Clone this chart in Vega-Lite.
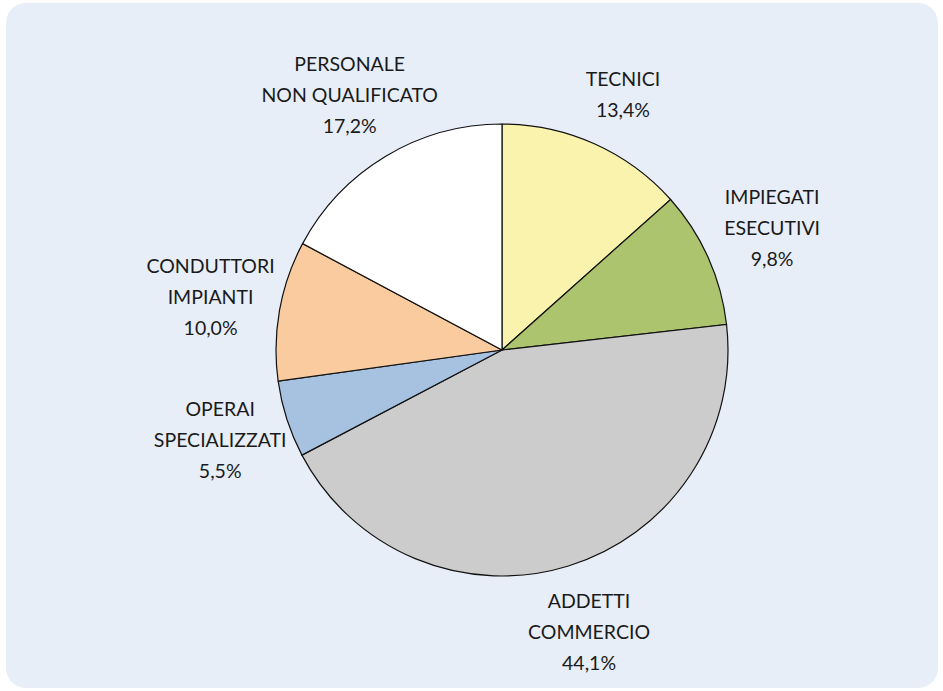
{
  "$schema": "https://vega.github.io/schema/vega-lite/v6.json",
  "width": 943,
  "height": 691,
  "autosize": {"type": "fit", "contains": "padding"},
  "padding": {"left": 6, "top": 3, "right": 5, "bottom": 3},
  "background": "#ffffff",
  "view": {"fill": "#e8eef8", "stroke": null, "cornerRadius": 20},
  "data": {
    "values": [
      {"ord": 1, "cat": "TECNICI", "pct": 13.4, "label": "TECNICI\n13,4%"},
      {"ord": 2, "cat": "IMPIEGATI ESECUTIVI", "pct": 9.8, "label": "IMPIEGATI\nESECUTIVI\n9,8%"},
      {"ord": 3, "cat": "ADDETTI COMMERCIO", "pct": 44.1, "label": "ADDETTI\nCOMMERCIO\n44,1%"},
      {"ord": 4, "cat": "OPERAI SPECIALIZZATI", "pct": 5.5, "label": "OPERAI\nSPECIALIZZATI\n5,5%"},
      {"ord": 5, "cat": "CONDUTTORI IMPIANTI", "pct": 10.0, "label": "CONDUTTORI\nIMPIANTI\n10,0%"},
      {"ord": 6, "cat": "PERSONALE NON QUALIFICATO", "pct": 17.2, "label": "PERSONALE\nNON QUALIFICATO\n17,2%"}
    ]
  },
  "encoding": {
    "theta": {"field": "pct", "type": "quantitative", "stack": true},
    "order": {"field": "ord", "type": "quantitative", "sort": "ascending"}
  },
  "layer": [
    {
      "mark": {"type": "arc", "outerRadius": 226, "stroke": "#111111", "strokeWidth": 1.2, "xOffset": 30, "yOffset": 4.5},
      "encoding": {
        "color": {
          "field": "cat",
          "type": "nominal",
          "legend": null,
          "scale": {
            "domain": ["TECNICI", "IMPIEGATI ESECUTIVI", "ADDETTI COMMERCIO", "OPERAI SPECIALIZZATI", "CONDUTTORI IMPIANTI", "PERSONALE NON QUALIFICATO"],
            "range": ["#faf3ad", "#adc46e", "#cccccc", "#a7c2e0", "#f9cb9f", "#ffffff"]
          }
        }
      }
    },
    {
      "mark": {"type": "text", "radius": 296, "xOffset": 30, "yOffset": 4.5, "dy": -31, "lineBreak": "\n", "lineHeight": 31, "font": "Lato", "fontSize": 19.5, "color": "#1a1a1a", "align": "center", "baseline": "middle"},
      "encoding": {
        "text": {"condition": {"test": "indexof(datum.label, '\\n') != lastindexof(datum.label, '\\n')", "field": "label", "type": "nominal"}, "value": ""}
      }
    },
    {
      "mark": {"type": "text", "radius": 296, "xOffset": 30, "yOffset": 4.5, "dy": 0, "lineBreak": "\n", "lineHeight": 31, "font": "Lato", "fontSize": 19.5, "color": "#1a1a1a", "align": "center", "baseline": "middle"},
      "encoding": {
        "text": {"condition": {"test": "indexof(datum.label, '\\n') == lastindexof(datum.label, '\\n')", "field": "label", "type": "nominal"}, "value": ""}
      }
    }
  ]
}
